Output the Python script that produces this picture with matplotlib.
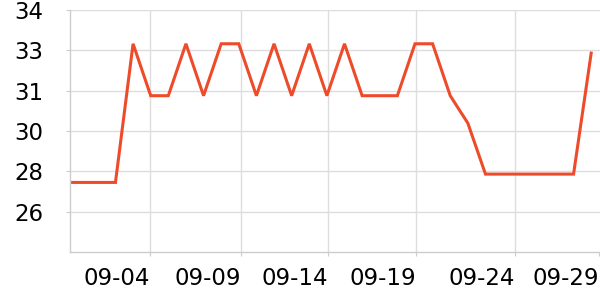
import matplotlib
matplotlib.use("Agg")
import matplotlib.pyplot as plt
import pandas as pd

# daily readings, Aug 30 .. Sep 29
dates = ["08-30", "08-31", "09-01", "09-02", "09-03", "09-04", "09-05", "09-06",
         "09-07", "09-08", "09-09", "09-10", "09-11", "09-12", "09-13", "09-14",
         "09-15", "09-16", "09-17", "09-18", "09-19", "09-20", "09-21", "09-22",
         "09-23", "09-24", "09-25", "09-26", "09-27", "09-28", "09-29"]
values = [27.16, 27.16, 27.16, 27.16, 32.66, 30.60, 30.60, 32.66,
          30.60, 32.66, 32.66, 30.60, 32.66, 30.60, 32.66, 30.60,
          32.66, 30.60, 30.60, 30.60, 32.66, 32.66, 30.60, 29.51,
          27.49, 27.49, 27.49, 27.49, 27.49, 27.49, 32.29]

x_ticks = [3.98, 9.14, 14.08, 19.07, 24.66, 29.44]
x_labels = ["09-04", "09-09", "09-14", "09-19", "09-24", "09-29"]
y_ticks = [26.0, 27.6, 29.2, 30.8, 32.4, 34.0]
y_labels = ["26", "28", "30", "31", "33", "34"]

# day number relative to Aug 31
d = pd.to_datetime(["2000-" + s for s in dates])
days = (d - pd.Timestamp("2000-08-31")).days.values

fig = plt.figure(figsize=(6, 3), dpi=100)
ax = fig.add_axes([70 / 600, 48 / 300, 530 / 600, 242 / 300])

ax.plot(days, values, color="#ee4b2b", lw=2.2, solid_joinstyle="miter")

ax.set_xlim(-0.58, 29.5)
ax.set_ylim(24.4, 34.0)

ax.set_xticks(x_ticks)
ax.set_xticklabels(x_labels, ha="right")
ax.set_yticks(y_ticks)
ax.set_yticklabels(y_labels)

ax.grid(True, color="#dddddd", lw=1)
ax.set_axisbelow(True)
# last date line sits on the right edge; the reference shows none there
ax.get_xgridlines()[-1].set_visible(False)
for s in ["top", "right"]:
    ax.spines[s].set_visible(False)
for s in ["left", "bottom"]:
    ax.spines[s].set_color("#cccccc")
    ax.spines[s].set_linewidth(1)

ax.tick_params(axis="x", length=3, color="#cccccc", labelsize=16.5, pad=8)
ax.tick_params(axis="y", length=3, color="#cccccc", labelsize=16.5, pad=16)

fig.savefig("out.png", dpi=100)
